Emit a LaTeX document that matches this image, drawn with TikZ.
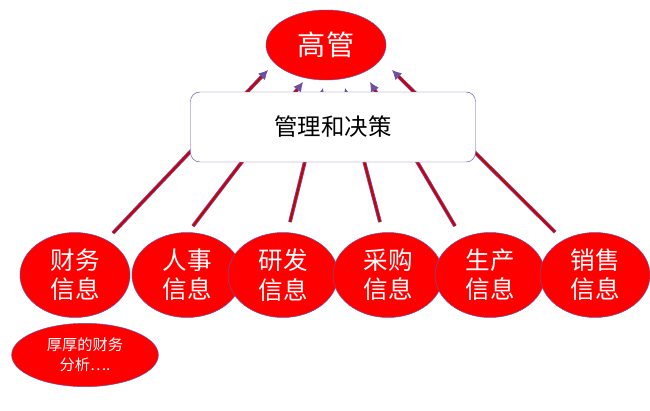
\documentclass[tikz,border=0pt]{standalone}
\usepackage{fontspec}
\newfontfamily\cjk{Noto Sans CJK SC}
\usetikzlibrary{shapes.geometric,arrows.meta}
\definecolor{rim}{RGB}{110,80,160}
\tikzstyle{info}=[ellipse, draw=rim, fill=red, text=white, minimum width=3.3cm, minimum height=2.55cm, inner sep=0pt, align=center, font=\cjk\fontsize{21}{25}\selectfont]
\tikzstyle{link}=[draw=rim, line width=0.7pt, double=red!80!black, double distance=1.8pt, -{Latex[length=8pt,width=8pt]}]
\begin{document}
\begin{tikzpicture}[x=0.03cm,y=-0.03cm]
\useasboundingbox (0,0) rectangle (650,410);

\node (boss) at (326,45) [info, minimum width=3.6cm, minimum height=2.1cm, font=\cjk\fontsize{24}{28}\selectfont] {高管};

\node (cw) at (75,275) [info] {财务\\信息};
\node (rs) at (187,275) [info] {人事\\信息};
\node (yf) at (283,275) [info] {研发\\信息};
\node (cg) at (388,275) [info] {采购\\信息};
\node (sc) at (490,275) [info] {生产\\信息};
\node (xs) at (595,275) [info] {销售\\信息};

\node (fx) at (85,355) [info, minimum width=4.4cm, minimum height=1.9cm, font=\cjk\fontsize{13}{17}\selectfont] {厚厚的财务\\分析….};

% arrows run behind the box
\coordinate (cwtop) at (113,233);
\coordinate (rstop) at (193,226);
\coordinate (yftop) at (290,222);
\coordinate (cgtop) at (380,222);
\coordinate (sctop) at (455,226);
\coordinate (xstop) at (555,232);
\coordinate (in1) at (268,70);
\coordinate (in2) at (303,82);
\coordinate (in3) at (323,88);
\coordinate (in4) at (345,88);
\coordinate (in5) at (370,82);
\coordinate (in6) at (392,70);

\draw [link] (cwtop) -- (in1);
\draw [link] (rstop) -- (in2);
\draw [link] (yftop) -- (in3);
\draw [link] (cgtop) -- (in4);
\draw [link] (sctop) -- (in5);
\draw [link] (xstop) -- (in6);

\node (gl) at (333,127) [draw=rim, fill=white, rounded corners=8pt, minimum width=8.55cm, minimum height=2.1cm, font=\cjk\fontsize{20}{24}\selectfont] {管理和决策};
\end{tikzpicture}
\end{document}
